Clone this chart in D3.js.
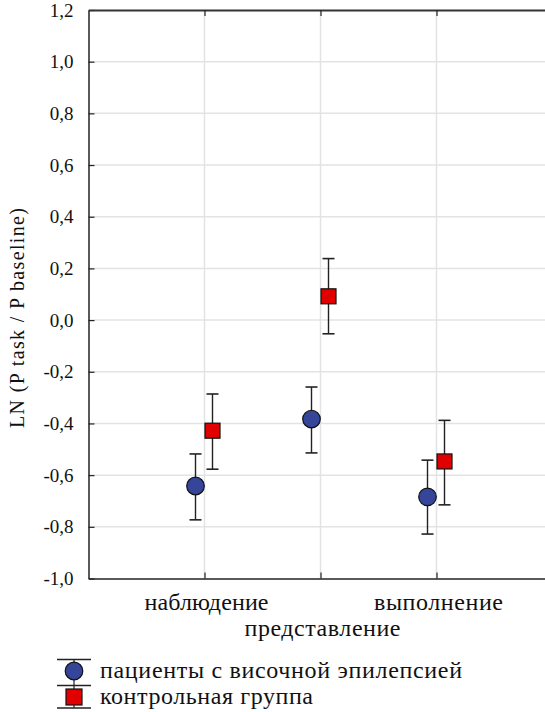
<!DOCTYPE html>
<html>
<head>
<meta charset="utf-8">
<script src="https://cdn.jsdelivr.net/npm/d3@7"></script>
<style>
  html, body { margin: 0; padding: 0; background: #fff; }
</style>
</head>
<body>
<svg id="chart" width="545" height="712"></svg>
<script>
// Conditions on the x axis
const categories = ["наблюдение", "представление", "выполнение"];
// Group names
const seriesNames = ["пациенты с височной эпилепсией", "контрольная группа"];
// Means and error-bar bounds, per condition
const patientsMean  = [-0.642, -0.383, -0.684];
const patientsLow   = [-0.773, -0.514, -0.828];
const patientsHigh  = [-0.518, -0.259, -0.542];
const controlMean   = [-0.428, 0.092, -0.547];
const controlLow    = [-0.577, -0.053, -0.715];
const controlHigh   = [-0.286, 0.238, -0.388];
// Y tick values and labels
const yTicks = [-1.0, -0.8, -0.6, -0.4, -0.2, 0.0, 0.2, 0.4, 0.6, 0.8, 1.0, 1.2];
const yTitle = "LN (P task / P baseline)";

const FONT = "Liberation Serif";
const INK = "#111";
const svg = d3.select("#chart").attr("font-family", FONT);
const plotL = 88.5, plotT = 10, plotB = 578.5, plotR = 552.5;

const x = d3.scalePoint().domain(categories).range([plotL, plotR]).padding(1);
const y = d3.scaleLinear().domain([-1.0, 1.2]).range([plotB, plotT]);
const fmt = v => d3.format(".1f")(v).replace(".", ",").replace("−", "-");

// gridlines
const grid = svg.append("g");
grid.selectAll("line.h").data(yTicks.slice(1, -1)).join("line")
  .attr("class", "h")
  .attr("x1", plotL).attr("x2", 545)
  .attr("y1", d => y(d)).attr("y2", d => y(d))
  .attr("stroke", "#e3e3e3").attr("stroke-width", 1.5);
grid.selectAll("line.v").data(categories).join("line")
  .attr("class", "v")
  .attr("x1", d => x(d)).attr("x2", d => x(d))
  .attr("y1", plotT).attr("y2", plotB)
  .attr("stroke", "#e3e3e3").attr("stroke-width", 1.5);

// left axis
const yAxis = d3.axisLeft(y).tickValues(yTicks).tickFormat(fmt).tickSizeInner(-6).tickSizeOuter(0).tickPadding(15);
const gy = svg.append("g").attr("transform", `translate(${plotL},0)`).call(yAxis)
  .attr("font-family", FONT).attr("font-size", 19);
gy.select(".domain").attr("stroke", "#222").attr("stroke-width", 1.5);
gy.selectAll(".tick line").attr("stroke", "#222").attr("stroke-width", 1.2);
gy.selectAll(".tick text")
  .attr("font-size", 19).attr("font-family", FONT).attr("fill", INK);

// bottom axis
const xAxis = d3.axisBottom(x).tickSizeInner(-6).tickSizeOuter(0).tickFormat("").tickPadding(0);
const gx = svg.append("g").attr("transform", `translate(0,${plotB})`).call(xAxis);
gx.select(".domain").attr("stroke", "#222").attr("stroke-width", 1.5);
gx.selectAll(".tick line").attr("stroke", "#222").attr("stroke-width", 1.2);

// category labels, middle one staggered down
const catWidths = [124, 156, 129];
svg.append("g").selectAll("text").data(categories).join("text")
  .attr("x", d => x(d) + 2)
  .attr("y", (d, i) => i % 2 === 1 ? 636 : 610)
  .attr("text-anchor", "middle")
  .attr("font-family", FONT)
  .attr("font-size", 24)
  .attr("fill", INK)
  .attr("textLength", (d, i) => catWidths[i])
  .attr("lengthAdjust", "spacing")
  .text(d => d);

// top axis
const xTop = d3.axisTop(x).tickSizeInner(-6).tickSizeOuter(0).tickFormat("");
const gt = svg.append("g").attr("transform", `translate(0,${plotT})`).call(xTop);
gt.select(".domain").attr("stroke", "#333").attr("stroke-width", 2);
gt.selectAll(".tick line").attr("stroke", "#222").attr("stroke-width", 1.2);

// y title
svg.append("text")
  .attr("transform", `translate(24,318) rotate(-90)`)
  .attr("text-anchor", "middle")
  .attr("font-family", FONT)
  .attr("font-size", 20)
  .attr("fill", INK)
  .attr("textLength", 220)
  .attr("lengthAdjust", "spacing")
  .text(yTitle);

// series data
const series = [
  { name: seriesNames[0], mean: patientsMean, lo: patientsLow, hi: patientsHigh, dx: -9, shape: "circle", fill: "#34459a" },
  { name: seriesNames[1], mean: controlMean, lo: controlLow, hi: controlHigh, dx: 8, shape: "square", fill: "#e00000" }
];

const capW = 6;
series.forEach(s => {
  const g = svg.append("g");
  const pts = categories.map((c, i) => ({ c, m: s.mean[i], lo: s.lo[i], hi: s.hi[i] }));
  const eb = g.selectAll("g.eb").data(pts).join("g").attr("class", "eb");
  eb.append("line")
    .attr("x1", d => x(d.c) + s.dx).attr("x2", d => x(d.c) + s.dx)
    .attr("y1", d => y(d.lo)).attr("y2", d => y(d.hi))
    .attr("stroke", "#222").attr("stroke-width", 1.4);
  ["lo", "hi"].forEach(k => {
    eb.append("line")
      .attr("x1", d => x(d.c) + s.dx - capW).attr("x2", d => x(d.c) + s.dx + capW)
      .attr("y1", d => y(d[k])).attr("y2", d => y(d[k]))
      .attr("stroke", "#222").attr("stroke-width", 1.6);
  });
  if (s.shape === "circle") {
    g.selectAll("circle").data(pts).join("circle")
      .attr("cx", d => x(d.c) + s.dx).attr("cy", d => y(d.m)).attr("r", 8.8)
      .attr("fill", s.fill).attr("stroke", "#111").attr("stroke-width", 1.2);
  } else {
    g.selectAll("rect").data(pts).join("rect")
      .attr("x", d => x(d.c) + s.dx - 7.5).attr("y", d => y(d.m) - 7.5)
      .attr("width", 15).attr("height", 15)
      .attr("fill", s.fill).attr("stroke", "#111").attr("stroke-width", 1.2);
  }
});

// legend
const legend = svg.append("g");
const lx0 = 57, lx1 = 91, lcx = 74;
const rowY = [671, 697];
const lineYs = [659.5, 685.5, 708];
legend.selectAll("line.rule").data(lineYs).join("line")
  .attr("class", "rule")
  .attr("x1", lx0).attr("x2", lx1).attr("y1", d => d).attr("y2", d => d)
  .attr("stroke", "#222").attr("stroke-width", 1.5);
legend.append("line").attr("x1", lcx).attr("x2", lcx).attr("y1", lineYs[0]).attr("y2", lineYs[2])
  .attr("stroke", "#222").attr("stroke-width", 1.2);
legend.append("circle").attr("cx", lcx).attr("cy", rowY[0]).attr("r", 8.8)
  .attr("fill", series[0].fill).attr("stroke", "#111").attr("stroke-width", 1.2);
legend.append("rect").attr("x", lcx - 8).attr("y", rowY[1] - 8).attr("width", 16).attr("height", 16)
  .attr("fill", series[1].fill).attr("stroke", "#111").attr("stroke-width", 1.2);
const legWidths = [362, 213];
legend.selectAll("text").data(seriesNames).join("text")
  .attr("x", 100).attr("y", (d, i) => rowY[i] + 7)
  .attr("font-family", FONT)
  .attr("font-size", 24)
  .attr("fill", INK)
  .attr("textLength", (d, i) => legWidths[i])
  .attr("lengthAdjust", "spacing")
  .text(d => d);
</script>
</body>
</html>
